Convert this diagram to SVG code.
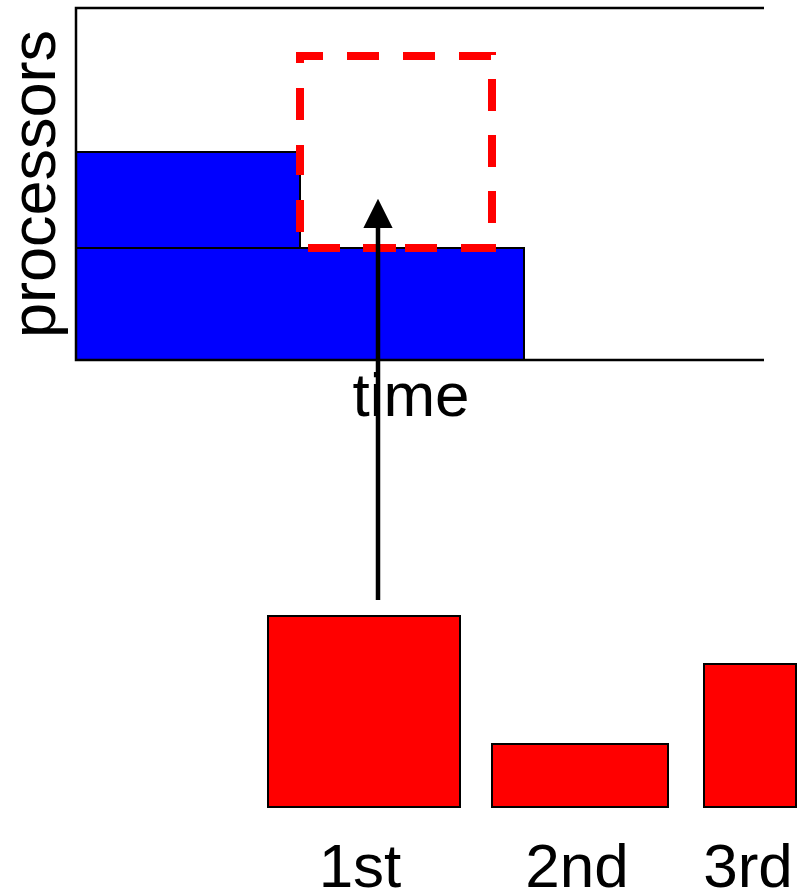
<svg xmlns="http://www.w3.org/2000/svg" width="803" height="894" viewBox="0 0 803 894">
<style>
.lbl{font-family:"Liberation Sans",Arial,sans-serif;fill:#000;text-anchor:middle}
.job{fill:#0000ff;stroke:#000;stroke-width:2}
.task{fill:#ff0000;stroke:#000;stroke-width:2}
.axis{stroke:#000;stroke-width:2.5;fill:none}
.dash{stroke:#ff0000;stroke-width:8;fill:none}
</style>
<defs>
<marker id="ah" markerWidth="6.5" markerHeight="6.5" refX="0" refY="3.25" orient="auto" markerUnits="strokeWidth">
<path d="M0,0 L6.5,3.25 L0,6.5 Z" fill="#000"/>
</marker>
</defs>
<rect width="803" height="894" fill="#fff"/>
<g id="chart">
<rect id="job-top" class="job" x="76" y="152" width="224" height="96"/>
<rect id="job-bottom" class="job" x="76" y="248" width="448" height="112"/>
<path class="axis" d="M764,8 H76 V360 H764"/>
</g>
<g id="slot">
<line class="dash" x1="296" y1="56" x2="496" y2="56" stroke-dasharray="32 24" stroke-dashoffset="-51"/>
<line class="dash" x1="492" y1="52" x2="492" y2="252" stroke-dasharray="32 24" stroke-dashoffset="29"/>
<line class="dash" x1="300" y1="248" x2="496" y2="248" stroke-dasharray="0 8 32 23 33 9 32 24 35 100"/>
<line class="dash" x1="300" y1="52" x2="300" y2="248" stroke-dasharray="11 25 32 25 30 25 32 100"/>
</g>
<text class="lbl" font-size="63" transform="translate(55,184) rotate(-90)">processors</text>
<text class="lbl" font-size="62" x="411" y="416">time</text>
<g id="connectors">
<line x1="378" y1="600" x2="378" y2="228" stroke="#000" stroke-width="4.5" marker-end="url(#ah)"/>
</g>
<g id="task1">
<rect class="task" x="268" y="616" width="192" height="191"/>
<text class="lbl" font-size="62" x="360" y="887">1st</text>
</g>
<g id="task2">
<rect class="task" x="492" y="744" width="176" height="63"/>
<text class="lbl" font-size="62" x="577" y="887">2nd</text>
</g>
<g id="task3">
<rect class="task" x="704" y="664" width="92" height="143"/>
<text class="lbl" font-size="62" x="748" y="887">3rd</text>
</g>
</svg>
